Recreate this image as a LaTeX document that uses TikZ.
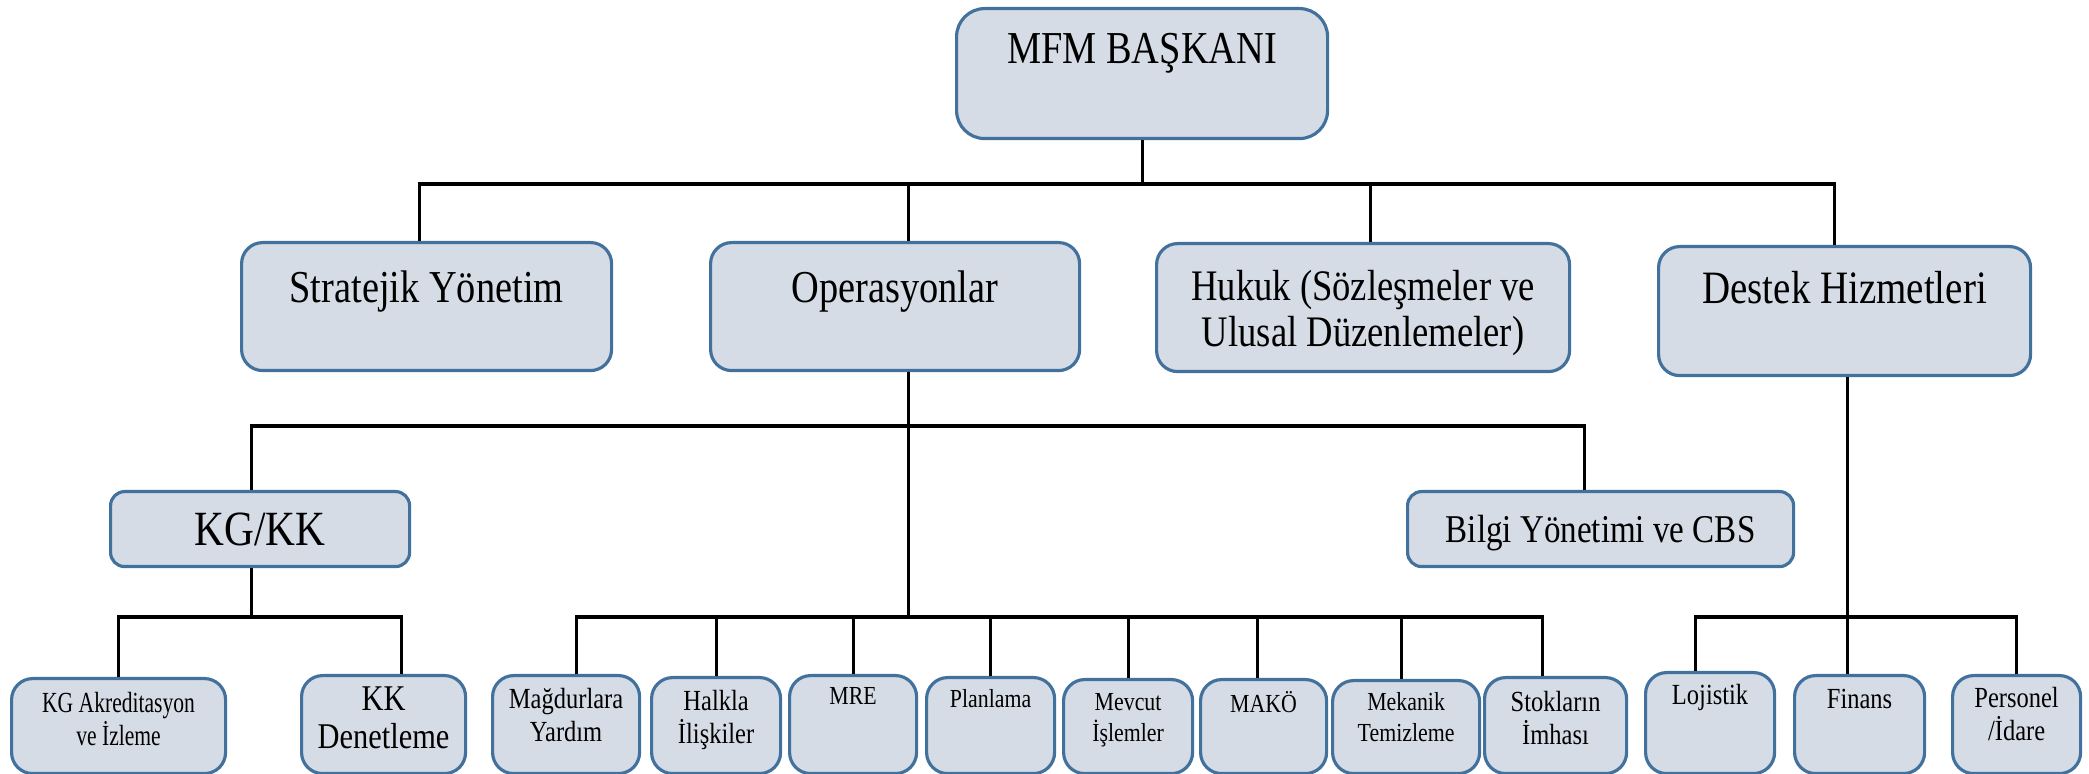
\documentclass[tikz,border=0pt]{standalone}
\usepackage{fontspec}
\setmainfont[FakeStretch=0.84]{Liberation Serif}
\newfontfamily\narrowserif[FakeStretch=0.74]{Liberation Serif}
\usepackage{tikz}
\usetikzlibrary{positioning,calc}
\definecolor{unitfill}{RGB}{214,220,229}
\definecolor{unitline}{RGB}{65,113,156}
\newcommand{\unitlabel}[4]{\parbox[c][#2][t]{#1}{\centering\vspace*{#3}#4\par}}
\tikzset{
  unit/.style={draw=unitline,fill=unitfill,line width=0.9pt,
    rounded corners=6pt,inner sep=0pt,anchor=north west},
  link/.style={draw=black,line width=0.9pt},
  big/.style={font=\fontsize{13}{15}\selectfont},
  mid/.style={font=\fontsize{12.4}{13}\selectfont},
  mini/.style={font=\fontsize{8.3}{9.2}\selectfont},
  micro/.style={font=\fontsize{7.4}{8.8}\selectfont}
}

\begin{document}
\begin{tikzpicture}
    \useasboundingbox (0,0) rectangle (20.89,-7.74);
    \coordinate (bar1) at (0,-1.84);
    \coordinate (bar2) at (0,-4.26);
    \coordinate (bar3) at (0,-6.17);
    % head
    \node (mfm) [unit,big,rounded corners=8pt] at (9.55,-0.07) {\unitlabel{3.71cm}{1.30cm}{0.25cm}{MFM BAŞKANI}};
    % second level
    \node (strat) [unit,big] at (2.40,-2.41) {\unitlabel{3.70cm}{1.28cm}{0.28cm}{Stratejik Yönetim}};
    \node (ops) [unit,big] at (7.09,-2.41) {\unitlabel{3.69cm}{1.28cm}{0.28cm}{Operasyonlar}};
    \node (hukuk) [unit,mid] at (11.55,-2.42) {\unitlabel{4.13cm}{1.28cm}{0.27cm}{Hukuk (Sözleşmeler ve\\Ulusal Düzenlemeler)}};
    \node (destek) [unit,big] at (16.57,-2.45) {\unitlabel{3.72cm}{1.29cm}{0.25cm}{\fontsize{13.2}{15}\selectfont Destek Hizmetleri}};
    % third level
    \node (kgkk) [unit,font=\fontsize{14}{16}\selectfont,rounded corners=4pt] at (1.09,-4.90) {\unitlabel{2.99cm}{0.75cm}{0.21cm}{KG/KK}};
    \node (bilgi) [unit,font=\fontsize{11.2}{13}\selectfont,rounded corners=4pt] at (14.06,-4.90) {\unitlabel{3.86cm}{0.75cm}{0.24cm}{Bilgi Yönetimi ve CBS}};
    % fourth level
    \node (kgakr) [unit,font=\narrowserif\fontsize{8.3}{9.4}\selectfont] at (0.10,-6.77) {\unitlabel{2.14cm}{0.95cm}{0.14cm}{KG Akreditasyon\\ve İzleme}};
    \node (kkden) [unit,font=\fontsize{10.3}{11}\selectfont] at (3.00,-6.74) {\unitlabel{1.64cm}{0.98cm}{0.11cm}{KK\\Denetleme}};
    \node (magd) [unit,mini] at (4.91,-6.74) {\unitlabel{1.47cm}{0.98cm}{0.13cm}{Mağdurlara\\Yardım}};
    \node (halk) [unit,mini] at (6.50,-6.76) {\unitlabel{1.29cm}{0.96cm}{0.13cm}{Halkla\\İlişkiler}};
    \node (mre) [unit,micro] at (7.88,-6.74) {\unitlabel{1.27cm}{0.98cm}{0.12cm}{MRE}};
    \node (plan) [unit,micro] at (9.25,-6.76) {\unitlabel{1.28cm}{0.96cm}{0.12cm}{Planlama}};
    \node (mevc) [unit,micro] at (10.62,-6.78) {\unitlabel{1.29cm}{0.94cm}{0.14cm}{Mevcut\\İşlemler}};
    \node (mako) [unit,micro] at (11.99,-6.78) {\unitlabel{1.26cm}{0.94cm}{0.12cm}{MAKÖ}};
    \node (mek) [unit,micro] at (13.31,-6.79) {\unitlabel{1.47cm}{0.93cm}{0.12cm}{Mekanik\\Temizleme}};
    \node (stok) [unit,mini] at (14.83,-6.76) {\unitlabel{1.42cm}{0.96cm}{0.14cm}{Stokların\\İmhası}};
    \node (loj) [unit,mini] at (16.44,-6.71) {\unitlabel{1.29cm}{1.01cm}{0.12cm}{Lojistik}};
    \node (fin) [unit,mini] at (17.93,-6.74) {\unitlabel{1.30cm}{0.98cm}{0.14cm}{Finans}};
    \node (pers) [unit,mini] at (19.51,-6.74) {\unitlabel{1.28cm}{0.98cm}{0.12cm}{Personel\\/İdare}};
    % where the lines meet the boxes
    \coordinate (stratin) at ([xshift=-0.07cm]strat.north);
    \coordinate (opsin) at ([xshift=0.13cm]ops.north);
    \coordinate (opsout) at ([xshift=0.13cm]ops.south);
    \coordinate (hukukin) at ([xshift=0.07cm]hukuk.north);
    \coordinate (destekin) at ([xshift=-0.10cm]destek.north);
    \coordinate (destekout) at ([xshift=0.03cm]destek.south);
    \coordinate (kgkkin) at ([xshift=-0.09cm]kgkk.north);
    \coordinate (kgkkout) at ([xshift=-0.09cm]kgkk.south);
    \coordinate (bilgiin) at ([xshift=-0.16cm]bilgi.north);
    \coordinate (kkdenin) at ([xshift=0.18cm]kkden.north);
    \coordinate (magdin) at ([xshift=0.10cm]magd.north);
    \coordinate (makoin) at ([xshift=-0.06cm]mako.north);
    \coordinate (mekin) at ([xshift=-0.05cm]mek.north);
    \coordinate (stokin) at ([xshift=-0.13cm]stok.north);
    \coordinate (lojin) at ([xshift=-0.15cm]loj.north);
    \coordinate (finin) at ([xshift=-0.12cm]fin.north);
    % connectors
    \draw[link] (mfm.south) -- (mfm.south |- bar1);
    \draw[link] (stratin) -- (stratin |- bar1) -- (destekin |- bar1) -- (destekin);
    \foreach \n in {opsin,hukukin}
      \draw[link] (\n) -- (\n |- bar1);
    \draw[link] (opsout) -- (opsout |- bar3);
    \draw[link] (kgkkin) -- (kgkkin |- bar2) -- (bilgiin |- bar2) -- (bilgiin);
    \draw[link] (kgkkout) -- (kgkkout |- bar3);
    \draw[link] (kgakr.north) -- (kgakr.north |- bar3) -- (kkdenin |- bar3) -- (kkdenin);
    \draw[link] (magdin) -- (magdin |- bar3) -- (stokin |- bar3) -- (stokin);
    \foreach \n in {halk.north,mre.north,plan.north,mevc.north,makoin,mekin}
      \draw[link] (\n) -- (\n |- bar3);
    \draw[link] (destekout) -- (destekout |- bar3);
    \draw[link] (lojin) -- (lojin |- bar3) -- (pers.north |- bar3) -- (pers.north);
    \draw[link] (finin) -- (finin |- bar3);
\end{tikzpicture}
\end{document}
